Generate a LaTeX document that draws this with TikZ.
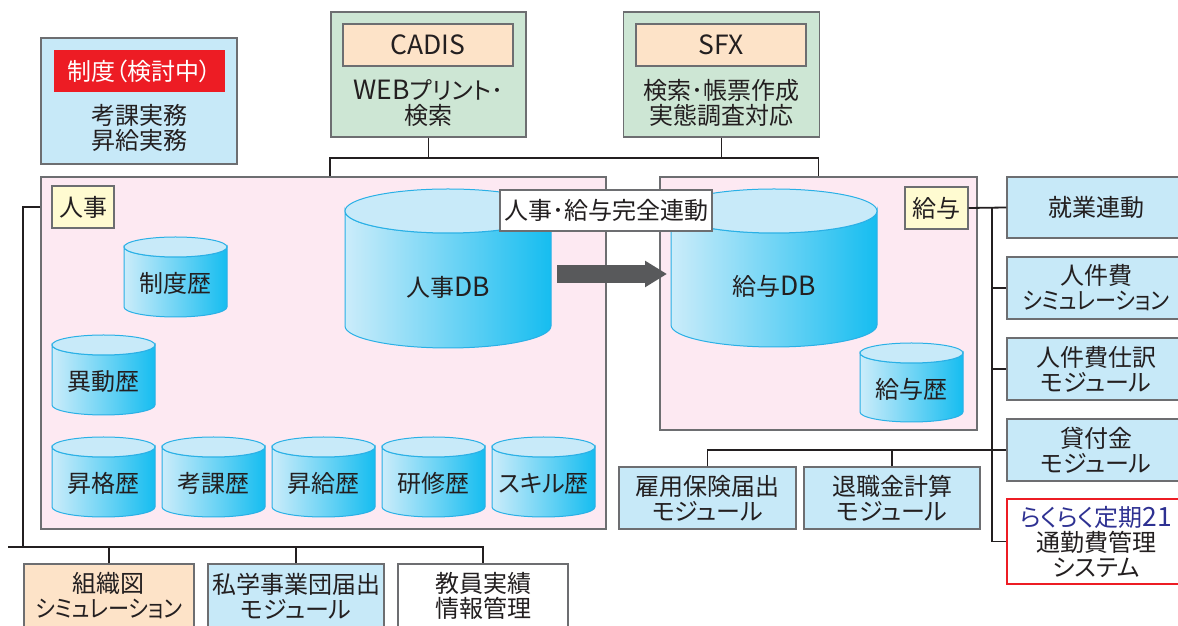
\documentclass[tikz,border=0pt]{standalone}
\usepackage{fontspec}
\setmainfont{Noto Sans CJK JP}[RawFeature=+palt]
\usepackage{graphicx}
\usepackage{xcolor}
\usetikzlibrary{arrows.meta,positioning,calc}
\definecolor{inkgray}{HTML}{231F20}
\definecolor{framegray}{HTML}{6D6E71}
\definecolor{modblue}{HTML}{C7E9F8}
\definecolor{toolgreen}{HTML}{CDE6D4}
\definecolor{tagorange}{HTML}{FDE3C8}
\definecolor{tagyellow}{HTML}{FFFBD1}
\definecolor{zonepink}{HTML}{FDE9F2}
\definecolor{alertred}{HTML}{ED1C24}
\definecolor{plannavy}{HTML}{2E3192}
\definecolor{arrowgray}{HTML}{58595B}
\definecolor{cylpale}{HTML}{CBECFA}
\definecolor{cyldeep}{HTML}{16BDF0}
\definecolor{cyllid}{HTML}{C8EAF9}
\definecolor{cylline}{HTML}{29B0E6}

\tikzset{
  box/.style={draw=framegray, line width=1.2pt, inner sep=0pt, align=center, text=inkgray,
    font=\fontsize{24}{25}\selectfont},
  modbox/.style={box, fill=modblue},
  boxtext/.style={inner sep=0pt, align=center, text=inkgray, font=\fontsize{24}{25}\selectfont},
  link/.style={draw=inkgray, line width=1.8pt},
  dbbody/.style={draw=cylline, line width=1pt, left color=cylpale, right color=cyldeep},
  dblid/.style={draw=cylline, line width=1pt, fill=cyllid},
  dblabel/.style={boxtext},
}

% katakana line squeezed to fit the module boxes
\newcommand{\simtext}{\scalebox{0.88}[1]{シミュレーション}}
% latin letters a little larger than the kana
\newcommand{\lat}[1]{{\fontsize{26.5}{25}\selectfont #1}}

% database drum: name, centre x, top y, width, height, lid radius, label
\newcommand{\dbcyl}[7]{%
  \pgfmathsetmacro\cylrx{#4/2}%
  \pgfmathsetmacro\cylL{#2-#4/2}%
  \pgfmathsetmacro\cylR{#2+#4/2}%
  \pgfmathsetmacro\cylT{#3-#6}%
  \pgfmathsetmacro\cylB{#3-#5+#6}%
  \pgfmathsetmacro\cylY{(#3-2*#6+#3-#5)/2+3.5}%
  \path[dbbody] (\cylL,\cylT) -- (\cylL,\cylB)
    arc[start angle=180, end angle=360, x radius=\cylrx pt, y radius=#6pt]
    -- (\cylR,\cylT)
    arc[start angle=0, end angle=-180, x radius=\cylrx pt, y radius=#6pt] -- cycle;
  \draw[dblid] (#2,\cylT) ellipse[x radius=\cylrx pt, y radius=#6pt];
  \node[dblabel] (#1) at (#2,\cylY) {#7};
}

\begin{document}
\begin{tikzpicture}[x=1pt, y=1pt]
  \useasboundingbox (0,0) rectangle (1178,626);
  \clip (0,0) rectangle (1178,626);

  % rules under review
  \node[modbox, minimum width=196pt, minimum height=126pt] (seido) at (139,525) {};
  \node[fill=alertred, text=white, inner sep=0pt, minimum width=171pt, minimum height=42pt,
    font=\fontsize{24}{25}\selectfont] (seidolab) at (139.5,555) {制度（検討中）};
  \node[boxtext] (seidotxt) at (139,498) {考課実務\\昇給実務};

  % outside tools
  \node[box, fill=toolgreen, minimum width=195pt, minimum height=125pt] (cadis) at (428.5,551.5) {};
  \node[box, fill=tagorange, minimum width=170pt, minimum height=42pt] (cadislab) at (428,581) {\lat{CADIS}};
  \node[boxtext] (cadistxt) at (428.5,523) {\lat{WEB}プリント･\\検索};
  \node[box, fill=toolgreen, minimum width=196pt, minimum height=125pt] (sfx) at (721.5,551.5) {};
  \node[box, fill=tagorange, minimum width=170pt, minimum height=42pt] (sfxlab) at (721,581) {\lat{SFX}};
  \node[boxtext] (sfxtxt) at (721.5,523) {検索･帳票作成\\実態調査対応};

  % personnel and payroll zones
  \node[box, fill=zonepink, minimum width=565pt, minimum height=352pt] (jinji) at (323.5,273) {};
  \node[box, fill=tagyellow, minimum width=62pt, minimum height=42pt] (jinjilab) at (83,419) {人事};
  \node[box, fill=zonepink, minimum width=317pt, minimum height=253pt] (kyuyo) at (818.5,322.5) {};
  \node[box, fill=tagyellow, minimum width=63pt, minimum height=42pt] (kyuyolab) at (936.5,418) {給与};

  \dbcyl{jdb}{448}{437}{206}{159}{22}{人事\lat{DB}}
  \dbcyl{kdb}{774}{437}{206}{158}{22}{給与\lat{DB}}
  \dbcyl{seidoreki}{175.5}{389}{103}{80}{10}{制度歴}
  \dbcyl{idoreki}{103.5}{291}{103}{80}{10}{異動歴}
  \dbcyl{kyuyoreki}{911.5}{283}{103}{79}{10}{給与歴}
  \foreach \nm/\cx/\lbl in {shokaku/103.5/昇格歴, koka/213.5/考課歴, shokyu/323.5/昇給歴,
      kenshu/433.5/研修歴, skill/543.5/スキル歴}
    {\dbcyl{\nm}{\cx}{189}{103}{80}{10}{\lbl}}

  \node[box, fill=white, minimum width=212pt, minimum height=41pt] (renkei) at (606,415.5) {人事･給与完全連動};

  \coordinate (flowfrom) at (557,352);
  \coordinate (flowto) at (667,352);
  \draw[draw=arrowgray, line width=18pt, -{Triangle[length=22pt, width=25pt]}] (flowfrom) -- (flowto);

  % payroll modules
  \node[modbox, minimum width=178pt, minimum height=61pt] (shugyo) at (1096,418.5) {就業連動};
  \node[modbox, minimum width=178pt, minimum height=62pt] (jinkenhi) at (1096,338) {人件費\\\simtext};
  \node[modbox, minimum width=178pt, minimum height=62pt] (shiwake) at (1096,257) {人件費仕訳\\モジュール};
  \node[modbox, minimum width=178pt, minimum height=62pt] (kashi) at (1096,176) {貸付金\\モジュール};
  \node[box, draw=alertred, fill=white, minimum width=178pt, minimum height=85pt] (rakuraku) at (1096,84.5)
    {\textcolor{plannavy}{らくらく定期\lat{21}}\\通勤費管理\\システム};
  \node[modbox, minimum width=177pt, minimum height=62pt] (koyou) at (707.5,128) {雇用保険届出\\モジュール};
  \node[modbox, minimum width=176pt, minimum height=62pt] (taishoku) at (892,128) {退職金計算\\モジュール};

  % personnel modules
  \node[box, fill=tagorange, minimum width=170pt, minimum height=64pt] (soshiki) at (109,30) {組織図\\\simtext};
  \node[modbox, minimum width=176pt, minimum height=64pt] (shigaku) at (296,30) {私学事業団届出\\モジュール};
  \node[box, fill=white, minimum width=170pt, minimum height=64pt] (kyoin) at (483,30) {教員実績\\情報管理};

  % connectors
  \coordinate (topbus) at (0,468);
  \draw[link] ([xshift=6.5pt]jinji.north) |- (topbus -| kyuyo.north) -- (kyuyo.north);
  \foreach \n in {cadis,sfx}
    \draw[link] (\n.south) -- (\n.south |- topbus);

  \coordinate (leftbus) at (23,0);
  \coordinate (botbus) at (0,79);
  \coordinate (busend) at (8,79);
  \draw[link] (jinjilab -| jinji.west) -| (leftbus |- botbus);
  \draw[link] (busend) -- (botbus -| kyoin.north) -- (kyoin.north);
  \foreach \n in {soshiki,shigaku}
    \draw[link] (\n.north) -- (\n.north |- botbus);

  \coordinate (kbus) at (992,0);
  \draw[link] (kyuyolab.east) -- (shugyo.west);
  \draw[link] (kbus |- shugyo.west) -- (kbus |- rakuraku.west) -- (rakuraku.west);
  \foreach \b in {jinkenhi,shiwake,kashi}
    \draw[link] (kbus |- \b.west) -- (\b.west);
  \draw[link] (koyou.north) |- (kashi.west);
  \draw[link] (taishoku.north) -- (taishoku.north |- kashi.west);
\end{tikzpicture}
\end{document}
